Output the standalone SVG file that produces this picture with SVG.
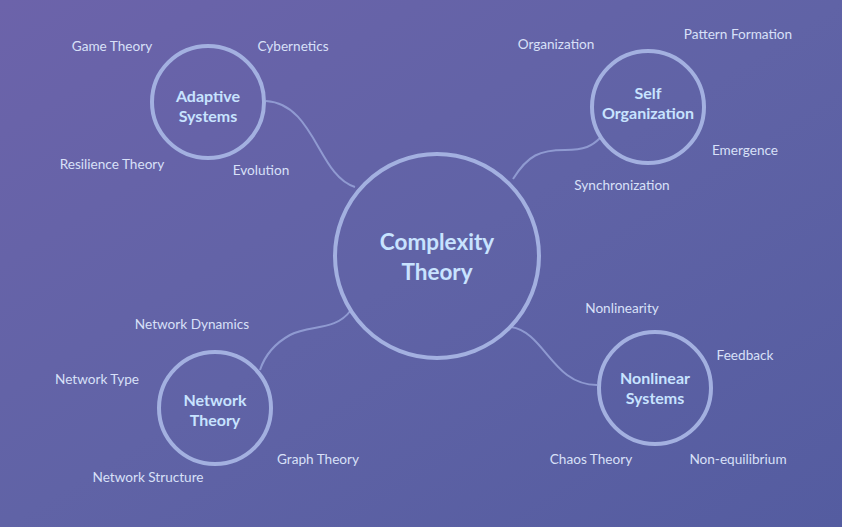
<svg xmlns="http://www.w3.org/2000/svg" width="842" height="527" viewBox="0 0 842 527">
<defs>
<linearGradient id="bg" x1="0" y1="0" x2="1" y2="1">
<stop offset="0" stop-color="#6c63aa"/>
<stop offset="0.5" stop-color="#6063a6"/>
<stop offset="1" stop-color="#545ca0"/>
</linearGradient>
<style>
.ring{fill:none;stroke:#a3b0e0;stroke-width:4}
.link{fill:none;stroke:#9ba7dc;stroke-width:2;opacity:0.8}
.title{font-family:Lato,"Open Sans",sans-serif;font-weight:bold;fill:#c8e3ff;text-anchor:middle}
.lbl{font-family:Lato,"Open Sans",sans-serif;font-size:13.6px;fill:#d8e0f8;text-anchor:middle}
</style>
</defs>
<rect width="842" height="527" fill="url(#bg)"/>
<g id="connectors">
<path class="link" d="M266,101 C315,104 318,176 355,187"/>
<path class="link" d="M513,179 C528,155 540,150 565,150 C585,150 592,146 600,138"/>
<path class="link" d="M511,327 C545,332 552,385 597,385"/>
<path class="link" d="M351,310 C335,332 310,324 290,335 C272,345 264,358 260,370"/>
</g>
<g id="complexity-theory">
<circle class="ring" cx="437" cy="256" r="102"/>
<text class="title" x="437" y="250" font-size="22.5">Complexity</text>
<text class="title" x="437" y="280" font-size="22.5">Theory</text>
</g>
<g id="adaptive-systems">
<circle class="ring" cx="208" cy="102" r="56"/>
<text class="title" x="208" y="102" font-size="16">Adaptive</text>
<text class="title" x="208" y="122" font-size="16">Systems</text>
</g>
<g id="self-organization">
<circle class="ring" cx="648" cy="107" r="56"/>
<text class="title" x="648" y="99" font-size="16">Self</text>
<text class="title" x="648" y="119" font-size="16">Organization</text>
</g>
<g id="network-theory">
<circle class="ring" cx="215" cy="408" r="56"/>
<text class="title" x="215" y="406" font-size="16">Network</text>
<text class="title" x="215" y="426" font-size="16">Theory</text>
</g>
<g id="nonlinear-systems">
<circle class="ring" cx="655" cy="388" r="56"/>
<text class="title" x="655" y="384" font-size="16">Nonlinear</text>
<text class="title" x="655" y="404" font-size="16">Systems</text>
</g>
<g id="labels">
<text class="lbl" x="112" y="51">Game Theory</text>
<text class="lbl" x="293" y="51">Cybernetics</text>
<text class="lbl" x="112" y="169">Resilience Theory</text>
<text class="lbl" x="261" y="175">Evolution</text>
<text class="lbl" x="556" y="49">Organization</text>
<text class="lbl" x="738" y="39">Pattern Formation</text>
<text class="lbl" x="745" y="155">Emergence</text>
<text class="lbl" x="622" y="190">Synchronization</text>
<text class="lbl" x="622" y="313">Nonlinearity</text>
<text class="lbl" x="745" y="360">Feedback</text>
<text class="lbl" x="591" y="464">Chaos Theory</text>
<text class="lbl" x="738" y="464">Non-equilibrium</text>
<text class="lbl" x="192" y="329">Network Dynamics</text>
<text class="lbl" x="97" y="384">Network Type</text>
<text class="lbl" x="318" y="464">Graph Theory</text>
<text class="lbl" x="148" y="482">Network Structure</text>
</g>
</svg>
